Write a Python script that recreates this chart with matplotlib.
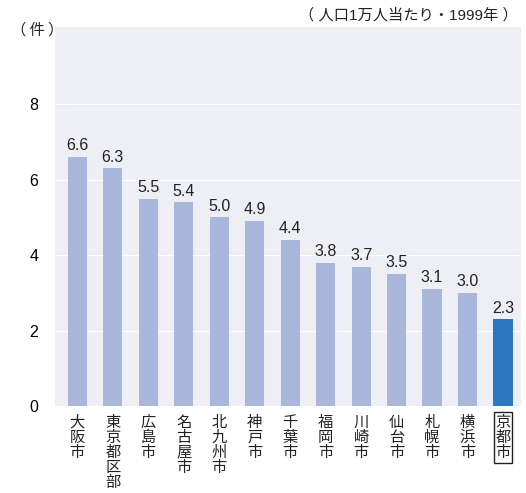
import matplotlib
matplotlib.use("Agg")
import matplotlib.pyplot as plt

plt.rcParams['font.family'] = ['Liberation Sans', 'Noto Sans CJK JP', 'DejaVu Sans']

cities = ['大阪市', '東京都区部', '広島市', '名古屋市', '北九州市', '神戸市', '千葉市',
          '福岡市', '川崎市', '仙台市', '札幌市', '横浜市', '京都市']
values = [6.6, 6.3, 5.5, 5.4, 5.0, 4.9, 4.4, 3.8, 3.7, 3.5, 3.1, 3.0, 2.3]
highlight = '京都市'
yticks = [0, 2, 4, 6, 8]

base_color = '#aab7dd'
hl_color = '#2b78c0'
cjk = ['Noto Sans CJK JP', 'DejaVu Sans']

fig = plt.figure(figsize=(5.26, 4.93), dpi=100)
ax = fig.add_axes([0.1046, 0.1765, 0.8854, 0.7685])
ax.set_facecolor('#eeeff5')

positions = list(range(len(cities)))
colors = [hl_color if c == highlight else base_color for c in cities]
ax.bar(positions, values, width=0.54, color=colors, zorder=2)

for x, v in zip(positions, values):
    ax.text(x, v + 0.1, f"{v:.1f}", ha='center', va='bottom', fontsize=11.5, color='#222222')

ax.set_xlim(-0.63, 12.5)
ax.set_ylim(0, 10.05)
ax.set_yticks(yticks)
ax.set_yticklabels([str(t) for t in yticks], fontsize=11.5)
ax.yaxis.grid(True, color='white', linewidth=0.8, zorder=1)
ax.tick_params(axis='y', length=0, pad=12)
ax.set_xticks([])
for s in ax.spines.values():
    s.set_visible(False)

for x, c in zip(positions, cities):
    label = '\n'.join(c)
    kw = {}
    if c == highlight:
        kw['bbox'] = dict(boxstyle='square,pad=0.12', facecolor='white', edgecolor='#222222', linewidth=1)
    ax.text(x, -0.2, label, ha='center', va='top', fontsize=11, linespacing=0.86,
            color='#222222', family=cjk, **kw)

fig.text(0.02, 0.94, '（ 件 ）', ha='left', va='center', fontsize=11, color='#222222',
         family=cjk)
fig.text(0.985, 0.97, '（ 人口1万人当たり・1999年 ）', ha='right', va='center', fontsize=11,
         color='#222222')

fig.savefig('out.png', dpi=100)
